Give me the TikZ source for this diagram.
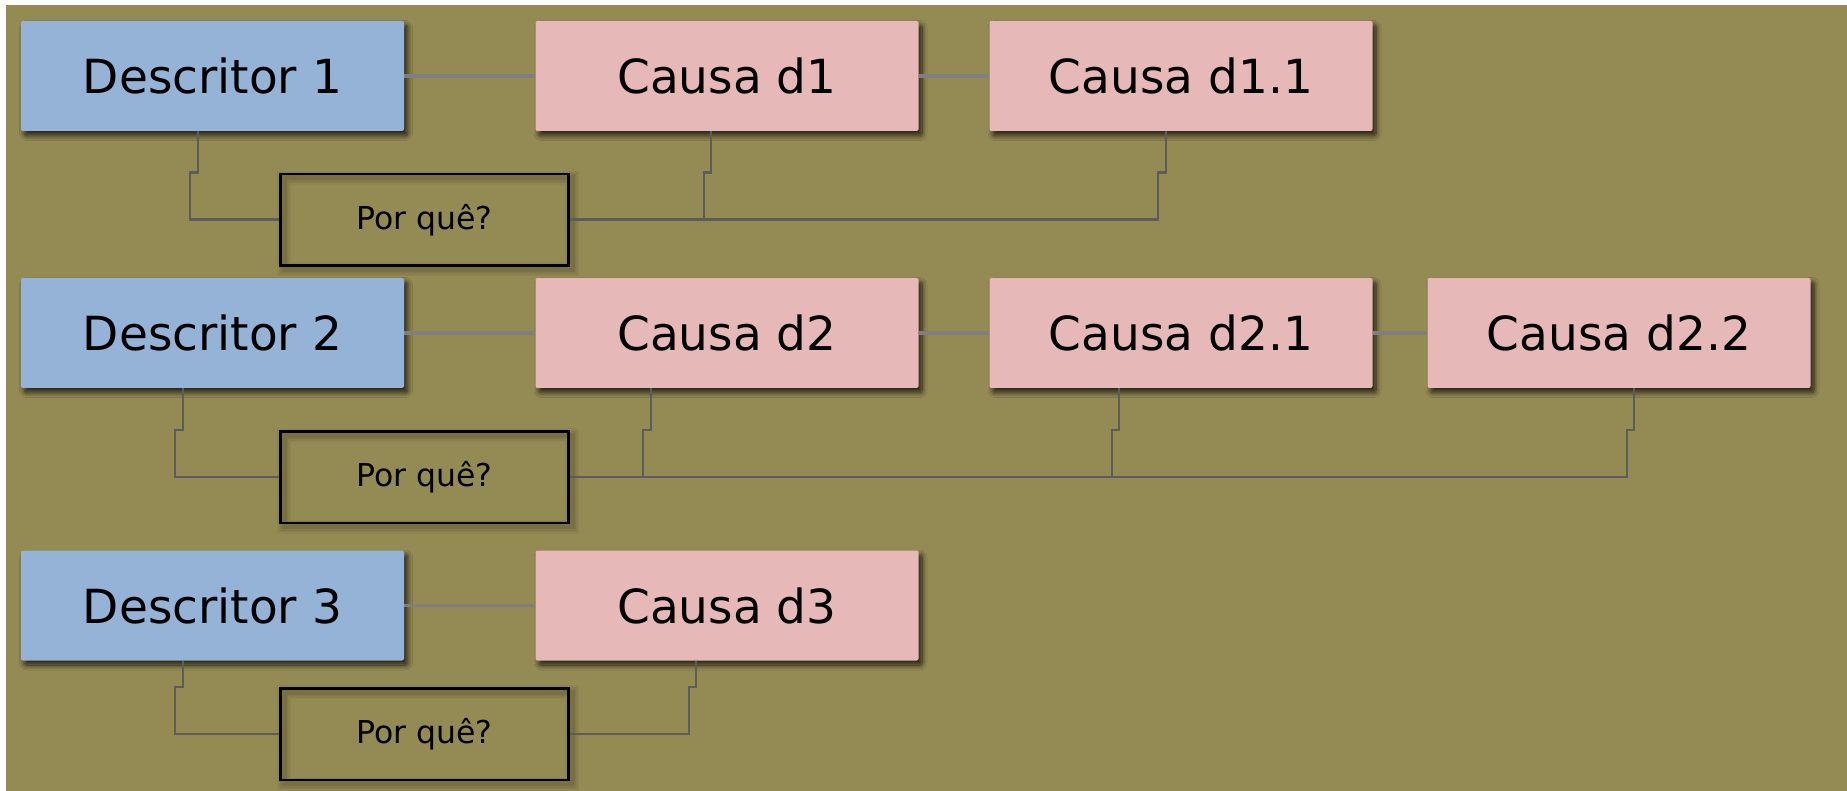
\documentclass[tikz,border=0pt]{standalone}
\usepackage{fontspec}
\setmainfont{DejaVu Sans}
\usetikzlibrary{shadows.blur,calc}
\definecolor{bgolive}{HTML}{948A54}
\definecolor{descblue}{HTML}{95B3D7}
\definecolor{causepink}{HTML}{E6B9B8}
\definecolor{linkgray}{HTML}{7F7F7F}
\definecolor{elbowgray}{HTML}{5C5C5C}
\begin{document}
\begin{tikzpicture}[x=1pt,y=-1pt,
  bigtext/.style={font=\fontsize{47}{56}\selectfont},
  smalltext/.style={font=\fontsize{31.5}{38}\selectfont},
  cardbox/.style={draw=none, rounded corners=2pt, minimum width=383pt,
    minimum height=110pt, inner sep=0pt, bigtext,
    blur shadow={shadow xshift=3.5pt, shadow yshift=-4.5pt,
      shadow blur radius=5pt, shadow blur steps=10, shadow opacity=75}},
  descbox/.style={cardbox, fill=descblue},
  causebox/.style={cardbox, fill=causepink},
  whybox/.style={draw=black, line width=2.5pt, minimum width=288pt,
    minimum height=91.5pt, inner sep=0pt, smalltext},
  link/.style={draw=linkgray, line width=3.5pt},
  elbow/.style={draw=elbowgray, line width=2.5pt}]

\useasboundingbox (0,0) rectangle (1847,791);
% page background
\fill[white] (0,0) rectangle (1847,791);
\fill[bgolive] (5.5,5.5) rectangle (1847,791);

% centres of the question boxes
\coordinate (q1) at (424.5,219.75);
\coordinate (q2) at (424.5,477);
\coordinate (q3) at (424.5,734);

% soft shadows under the outlines of the question boxes
\foreach \q in {q1,q2,q3} {
  \foreach \w/\o in {14/0.03, 11/0.04, 8/0.05, 5/0.07} {
    \draw[line width=\w pt, black, opacity=\o]
      ($(\q)+(-144+3.5,-45.75+4)$) rectangle ($(\q)+(144+3.5,45.75+4)$);
  }
}

% descriptors and causes
\node[descbox]  (d1)  at (212.5,76)    {Descritor 1};
\node[causebox] (c1)  at (727,76)      {Causa d1};
\node[causebox] (c11) at (1181,76)     {Causa d1.1};

\node[descbox]  (d2)  at (212.5,333)   {Descritor 2};
\node[causebox] (c2)  at (727,333)     {Causa d2};
\node[causebox] (c21) at (1181,333)    {Causa d2.1};
\node[causebox] (c22) at (1619,333)    {Causa d2.2};

\node[descbox]  (d3)  at (212.5,605.5) {Descritor 3};
\node[causebox] (c3)  at (727,605.5)   {Causa d3};

% question boxes
\node[whybox] (p1) at (q1) {Por quê?};
\node[whybox] (p2) at (q2) {Por quê?};
\node[whybox] (p3) at (q3) {Por quê?};

% straight links between neighbouring boxes
\draw[link] (d1) -- (c1);
\draw[link] (c1) -- (c11);
\draw[link] (d2) -- (c2);
\draw[link] (c2) -- (c21);
\draw[link] (c21) -- (c22);
\draw[link] (d3) -- (c3);

% row 1 elbows
\draw[elbow] (198,0 |- d1.south) -- (198,0 |- p1.north) -- (190,0 |- p1.north) |- (p1.west);
\draw[elbow] (p1.east) -| (1158,0 |- p1.north) -- (1166,0 |- p1.north) -- (1166,0 |- c11.south);
\draw[elbow] (711,0 |- c1.south) -- (711,0 |- p1.north) -- (704,0 |- p1.north) -- (704,0 |- p1.east);

% row 2 elbows
\draw[elbow] (183,0 |- d2.south) -- (183,0 |- p2.north) -- (175,0 |- p2.north) |- (p2.west);
\draw[elbow] (p2.east) -| (1627,0 |- p2.north) -- (1634,0 |- p2.north) -- (1634,0 |- c22.south);
\draw[elbow] (651,0 |- c2.south) -- (651,0 |- p2.north) -- (643,0 |- p2.north) -- (643,0 |- p2.east);
\draw[elbow] (1119,0 |- c21.south) -- (1119,0 |- p2.north) -- (1112,0 |- p2.north) -- (1112,0 |- p2.east);

% row 3 elbows
\draw[elbow] (183,0 |- d3.south) -- (183,0 |- p3.north) -- (175,0 |- p3.north) |- (p3.west);
\draw[elbow] (p3.east) -| (689,0 |- p3.north) -- (696,0 |- p3.north) -- (696,0 |- c3.south);

\end{tikzpicture}
\end{document}
